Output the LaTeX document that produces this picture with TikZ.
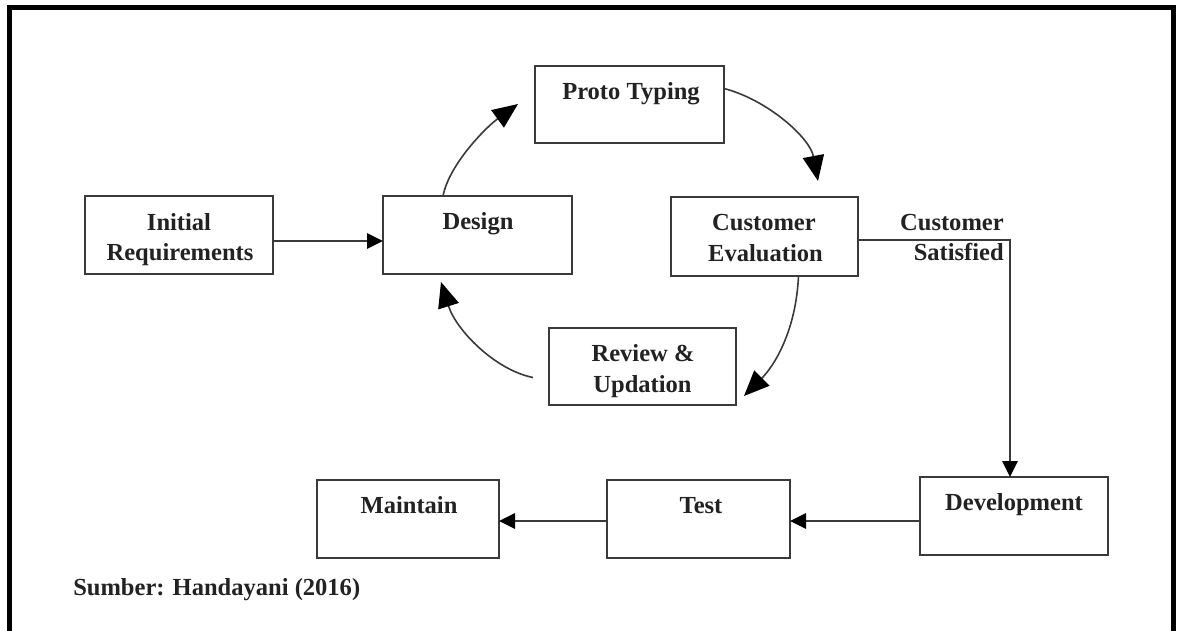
\documentclass[tikz,border=0pt]{standalone}
\usepackage{fontspec}
\setmainfont{Liberation Serif}
\usetikzlibrary{arrows.meta,calc}
\definecolor{ink}{HTML}{222222}
\definecolor{boxc}{HTML}{3A3A3A}
\begin{document}
\begin{tikzpicture}[x=0.75pt,y=-0.75pt,
  box/.style 2 args={draw=boxc,line width=1.5pt,minimum width=#1*0.75pt,minimum height=#2*0.75pt,inner sep=0pt,outer sep=0pt},
  lbl/.style={font=\fontsize{18.4}{22}\selectfont\bfseries,text=ink,inner sep=0pt,anchor=base},
  conn/.style={draw=boxc,line width=1.5pt},
  curv/.style={draw=boxc,line width=1.2pt},
  smalltip/.style={-{Triangle[length=12pt,width=11.5pt,color=black]}},
  bigtip/.style={-{Triangle[length=19pt,width=16pt,color=black]}}]
\useasboundingbox (0,0) rectangle (1182,631);
\fill[white] (0,0) rectangle (1182,631);
\draw[line width=3.75pt] (9.5,645) -- (9.5,7.5) -- (1173.5,7.5) -- (1173.5,645);
% boxes
\node[box={188}{78}] (ir) at (179,235) {};
\node[box={189}{78}] (design) at (477.5,235) {};
\node[box={189}{77}] (proto) at (629.5,104.5) {};
\node[box={187}{79}] (ce) at (764.5,236.5) {};
\node[box={187}{77}] (rev) at (642.5,366.5) {};
\node[box={182}{78}] (maint) at (408,519) {};
\node[box={183}{78}] (test) at (698.5,519) {};
\node[box={188}{78}] (dev) at (1014,516) {};
% texts
\node[lbl] (irA) at (179,230) {Initial};
\node[lbl] (irB) at (180,260) {Requirements};
\node[lbl] (designT) at (478,229) {Design};
\node[lbl] (protoT) at (631,100) {Proto Typing};
\node[lbl] (ceA) at (764,231) {Customer};
\node[lbl] (ceB) at (765.5,262) {Evaluation};
\node[lbl,anchor=base east] (satA) at (1004,231) {Customer};
\node[lbl,anchor=base east] (satB) at (1004,260) {Satisfied};
\node[lbl] (revA) at (643,361) {Review \&};
\node[lbl] (revB) at (642.5,392) {Updation};
\node[lbl] (maintT) at (409,513) {Maintain};
\node[lbl] (testT) at (701,513) {Test};
\node[lbl] (devT) at (1014,510) {Development};
\node[lbl,anchor=base west] (src) at (73,595) {Sumber: Handayani (2016)};
% free arrow ends
\coordinate (t1) at (518,104);
\coordinate (t2) at (818,181);
\coordinate (t3) at (744,396);
\coordinate (t4) at (441,282);
% straight connectors
\draw[conn,smalltip] ($(ir.east)+(0,6)$) -- ($(design.west)+(0,6)$);
\draw[conn,smalltip] ($(ce.east)+(0,3.5)$) -| ($(dev.north)+(-4,0)$);
\draw[conn,smalltip] ($(dev.west)+(0,5)$) -- ($(test.east)+(0,2)$);
\draw[conn,smalltip] ($(test.west)+(0,2)$) -- ($(maint.east)+(0,2)$);
% curved connectors
\draw[curv,bigtip] ($(design.north)+(-34.5,0)$) .. controls (449,165) and (485,128) .. (t1);
\draw[curv,bigtip] ($(proto.east)+(0,-16)$) .. controls (768,100) and (810,138) .. (t2);
\draw[curv,bigtip] ($(ce.south)+(34,0)$) .. controls (796,330) and (775,365) .. (t3);
\draw[curv,bigtip] ($(rev.west)+(-16,11)$) .. controls (495,370) and (456,330) .. (t4);
\end{tikzpicture}
\end{document}
